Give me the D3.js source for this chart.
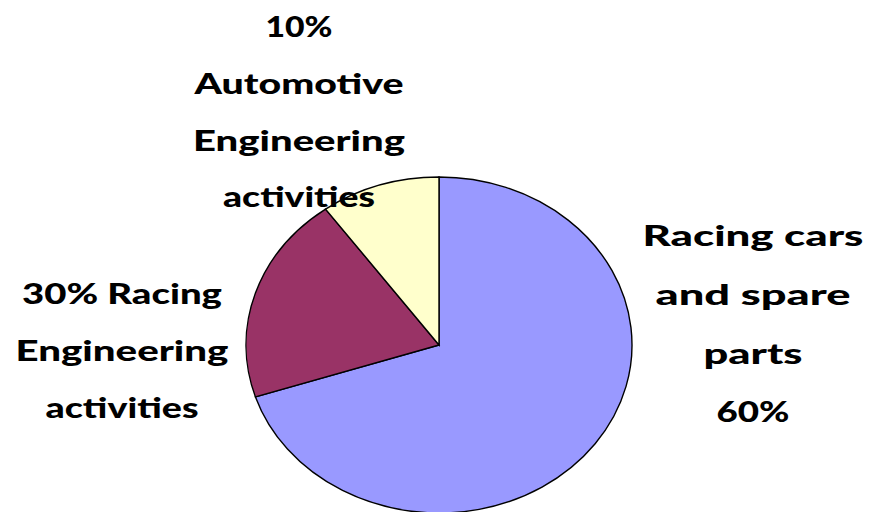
<!DOCTYPE html>
<html>
<head>
  <meta charset="utf-8">
  <script src="https://cdn.jsdelivr.net/npm/d3@7"></script>
  <style>
    body { margin: 0; background: #fff; }
    text { font-family: Lato, "DejaVu Sans", sans-serif; font-weight: 900; fill: #000; }
  </style>
</head>
<body>
  <svg id="chart" width="870" height="512"></svg>
  <script>
    // data
    const categories = ["Racing cars and spare parts", "Racing Engineering activities", "Automotive Engineering activities"];
    const values = [70, 20, 10];
    const colors = ["#9999ff", "#993366", "#ffffcc"];
    // label text as printed on the chart (one entry per line)
    const labelLines = [
      ["Racing cars", "and spare", "parts", "60%"],
      ["30% Racing", "Engineering", "activities"],
      ["10%", "Automotive", "Engineering", "activities"]
    ];

    const svg = d3.select("#chart");
    const cx = 439, cy = 345;
    const rx = 193, ry = 168; // pie is stretched sideways

    const pie = d3.pie().sort(null).value(d => d.value);
    const arc = d3.arc().innerRadius(0).outerRadius(ry);

    const data = categories.map((c, i) => ({ name: c, value: values[i], color: colors[i] }));

    const g = svg.append("g")
      .attr("transform", `translate(${cx},${cy}) scale(${rx / ry},1)`);

    g.selectAll("path")
      .data(pie(data))
      .enter()
      .append("path")
      .attr("d", arc)
      .attr("fill", d => d.data.color)
      .attr("stroke", "#000")
      .attr("stroke-width", 1.4)
      .attr("vector-effect", "non-scaling-stroke");

    // label layout: centre x, first baseline, line step, and the width of each line
    const labelPos = [
      { x: 753, y: 246, step: 58.8, widths: [221, 195, 99, 73] },
      { x: 122, y: 304, step: 57, widths: [200, 213, 153] },
      { x: 299, y: 37, step: 56.8, widths: [67, 209, 212, 152] }
    ];

    labelLines.forEach(function (lines, i) {
      const p = labelPos[i];
      svg.append("g").selectAll("text")
        .data(lines)
        .enter()
        .append("text")
        .attr("x", p.x)
        .attr("y", (d, j) => p.y + j * p.step)
        .attr("text-anchor", "middle")
        .attr("font-size", "28px")
        .attr("textLength", (d, j) => p.widths[j])
        .attr("lengthAdjust", "spacingAndGlyphs")
        .text(d => d);
    });
  </script>
</body>
</html>
